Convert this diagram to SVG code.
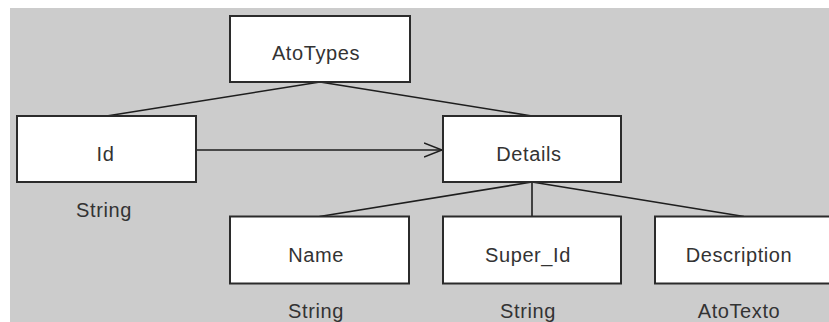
<svg xmlns="http://www.w3.org/2000/svg" width="829" height="322" viewBox="0 0 829 322">
<style>
.box{fill:#ffffff;stroke:#2b2b2b;stroke-width:2}
.lbl{font-family:"Liberation Sans",Arial,sans-serif;font-size:20px;fill:#333333;text-anchor:middle;letter-spacing:0.6px}
.edge{stroke:#1e1e1e;stroke-width:1.6;fill:none}
</style>
<defs>
<marker id="open" markerWidth="20" markerHeight="16" refX="18" refY="8" orient="auto" markerUnits="userSpaceOnUse">
<path d="M0,1 L18,8 L0,15" fill="none" stroke="#1e1e1e" stroke-width="1.6"/>
</marker>
</defs>
<rect x="0" y="0" width="829" height="322" fill="#ffffff"/>
<rect x="10" y="8" width="819" height="314" fill="#cccccc"/>
<g id="connectors">
<line class="edge" x1="320" y1="82" x2="106.5" y2="116"/>
<line class="edge" x1="320" y1="82" x2="532" y2="116"/>
<line class="edge" x1="196" y1="150" x2="442" y2="150" marker-end="url(#open)"/>
<line class="edge" x1="532" y1="182" x2="319.5" y2="216.5"/>
<line class="edge" x1="532" y1="182" x2="532" y2="216.5"/>
<line class="edge" x1="532" y1="182" x2="744" y2="216.5"/>
</g>
<g id="AtoTypes">
<rect class="box" x="230" y="16" width="180" height="66"/>
<text class="lbl" x="316" y="60">AtoTypes</text>
</g>
<g id="Id">
<rect class="box" x="17" y="116" width="179" height="66"/>
<text class="lbl" x="105.5" y="161">Id</text>
<text class="lbl" x="104" y="217">String</text>
</g>
<g id="Details">
<rect class="box" x="443" y="116" width="178" height="66"/>
<text class="lbl" x="529" y="161">Details</text>
</g>
<g id="Name">
<rect class="box" x="230" y="216.5" width="179" height="67"/>
<text class="lbl" x="316" y="262">Name</text>
<text class="lbl" x="316" y="318">String</text>
</g>
<g id="Super_Id">
<rect class="box" x="443" y="216.5" width="178" height="67"/>
<text class="lbl" x="528" y="262">Super_Id</text>
<text class="lbl" x="528" y="318">String</text>
</g>
<g id="Description">
<rect class="box" x="655" y="216.5" width="178" height="67"/>
<text class="lbl" x="739" y="262">Description</text>
<text class="lbl" x="739" y="318">AtoTexto</text>
</g>
</svg>
